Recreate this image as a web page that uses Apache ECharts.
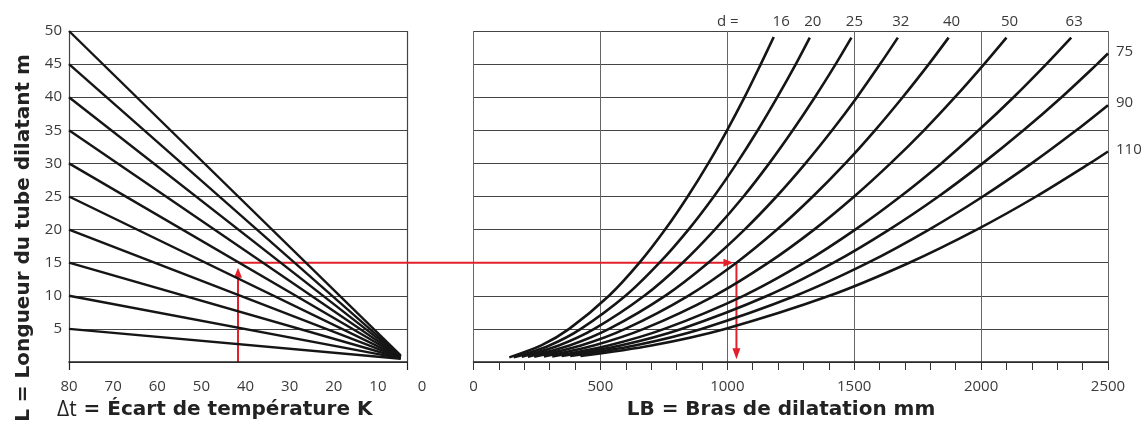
<!DOCTYPE html>
<html><head><meta charset="utf-8">
<script src="https://cdn.jsdelivr.net/npm/echarts@6/dist/echarts.min.js"></script>
<style>html,body{margin:0;padding:0;background:#fff}#c{width:1141px;height:428px}</style>
</head><body><div id="c"></div>
<script>
// ---------- data ----------
const lengthsL = [5, 10, 15, 20, 25, 30, 35, 40, 45, 50];          // L (m) at Δt = 80
const lengthsEndY = [0.5, 0.55, 0.6, 0.65, 0.7, 0.75, 0.8, 0.85, 0.9, 1.0]; // value near Δt ≈ 1.5
const dtStart = 80, dtEnd = 1.5;
const diameters = ['16', '20', '25', '32', '40', '50', '63', '75', '90', '110'];
const curve16 = [[141,0.7],[267,2.5],[377,5],[534,10],[654,15],[755,20],[844,25],[925,30],[999,35],[1068,40],[1132,45],[1183,49.1]];
const curve20 = [[158,0.7],[299,2.5],[423,5],[599,10],[733,15],[847,20],[947,25],[1037,30],[1120,35],[1197,40],[1270,45],[1325,49]];
const curve25 = [[190,0.8],[336,2.5],[476,5],[673,10],[824,15],[951,20],[1064,25],[1165,30],[1258,35],[1345,40],[1427,45],[1489,49]];
const curve32 = [[214,0.8],[378,2.5],[534,5],[755,10],[925,15],[1068,20],[1194,25],[1308,30],[1413,35],[1511,40],[1602,45],[1672,49]];
const curve40 = [[239,0.8],[423,2.5],[598,5],[846,10],[1036,15],[1196,20],[1337,25],[1465,30],[1582,35],[1691,40],[1794,45],[1872,49]];
const curve50 = [[277,0.85],[474,2.5],[671,5],[949,10],[1162,15],[1342,20],[1500,25],[1643,30],[1775,35],[1897,40],[2012,45],[2100,49]];
const curve63 = [[310,0.85],[532,2.5],[752,5],[1064,10],[1303,15],[1504,20],[1682,25],[1843,30],[1990,35],[2128,40],[2257,45],[2355,49]];
const curve75 = [[347,0.9],[579,2.5],[819,5],[1158,10],[1419,15],[1638,20],[1832,25],[2006,30],[2167,35],[2317,40],[2457,45],[2500,46.6]];
const curve90 = [[381,0.9],[635,2.5],[898,5],[1269,10],[1555,15],[1795,20],[2007,25],[2199,30],[2375,35],[2500,38.8]];
const curve110 = [[421,0.9],[701,2.5],[991,5],[1402,10],[1717,15],[1983,20],[2217,25],[2428,30],[2500,31.8]];
const curves = [curve16, curve20, curve25, curve32, curve40, curve50, curve63, curve75, curve90, curve110];
const example = { dt: 40, L: 15, LB: 1036, LBend: 0.4 };
const titleY = 'L = Longueur du tube dilatant m';
const titleDt = ' = Écart de température K';
const titleLB = 'LB = Bras de dilatation mm';

// ---------- chart ----------
const FONT = '"Open Sans", "Liberation Sans", sans-serif';
const TFONT = '"DejaVu Sans", "Open Sans", sans-serif';
const RED = '#e3202a';
const chart = echarts.init(document.getElementById('c'));
const tickLabel = { color: '#3a3a3a', fontSize: 15, fontFamily: FONT };

const series = [];
lengthsL.forEach((L, i) => {
  series.push({
    type: 'line', xAxisIndex: 0, yAxisIndex: 0, symbol: 'none', silent: true,
    data: [[dtStart, L], [dtEnd, lengthsEndY[i]]],
    lineStyle: { color: '#151515', width: 2.4 }
  });
});
curves.forEach((c, i) => {
  const last = c[c.length - 1];
  const onRight = last[0] >= 2500;
  let label;
  if (onRight) {
    label = { show: true, position: 'right', distance: 8, offset: [0, -2], formatter: diameters[i], ...tickLabel };
  } else if (i === 0) {
    label = { show: true, position: 'top', distance: 8, align: 'right', offset: [16, 0],
      formatter: '{a|d =}{b|' + diameters[i] + '}',
      rich: { a: { padding: [0, 34, 0, 0], ...tickLabel }, b: { ...tickLabel } } };
  } else {
    label = { show: true, position: 'top', distance: 8, offset: [3, 0], formatter: diameters[i], ...tickLabel };
  }
  series.push({
    type: 'line', xAxisIndex: 1, yAxisIndex: 1, symbol: 'none', smooth: 0.3, silent: true,
    data: c,
    lineStyle: { color: '#151515', width: 2.6 },
    markPoint: { symbol: 'circle', symbolSize: 0, silent: true, animation: false,
      data: [{ coord: last, label: label }] }
  });
});

chart.setOption({
  animation: false,
  backgroundColor: '#fff',
  grid: [
    { left: 69, top: 31, width: 338, height: 331 },
    { left: 473.5, top: 31, width: 634.5, height: 331 },
    { left: 69, top: 31, width: 353, height: 331 }
  ],
  xAxis: [
    { gridIndex: 0, type: 'value', min: 0, max: 80, interval: 10, inverse: true,
      axisLine: { show: true, onZero: false, lineStyle: { color: '#222', width: 1.5 } },
      axisTick: { show: true, customValues: [0, 80], length: 8, lineStyle: { color: '#222', width: 1.2 } },
      axisLabel: { show: false },
      splitLine: { show: true, lineStyle: { color: '#444', width: 1.2 } } },
    { gridIndex: 1, type: 'value', min: 0, max: 2500, interval: 500,
      axisLine: { show: true, onZero: false, lineStyle: { color: '#222', width: 1.5 } },
      axisTick: { show: true, length: 8, lineStyle: { color: '#333', width: 1 } },
      minorTick: { show: true, splitNumber: 5, length: 8, lineStyle: { color: '#333', width: 1 } },
      axisLabel: { margin: 17, formatter: v => String(v), ...tickLabel },
      splitLine: { show: true, lineStyle: { color: '#666', width: 1 } } },
    { gridIndex: 2, type: 'value', min: 0, max: 80, interval: 10, inverse: true,
      axisLine: { show: false }, axisTick: { show: false }, splitLine: { show: false },
      axisLabel: { margin: 17, ...tickLabel } }
  ],
  yAxis: [
    { gridIndex: 0, type: 'value', min: 0, max: 50, interval: 5,
      axisLine: { show: false }, axisTick: { show: false },
      axisLabel: { margin: 7, formatter: v => (v === 0 ? '' : String(v)), ...tickLabel },
      splitLine: { show: true, lineStyle: { color: '#444', width: 1.2 } } },
    { gridIndex: 1, type: 'value', min: 0, max: 50, interval: 5,
      axisLine: { show: false }, axisTick: { show: false }, axisLabel: { show: false },
      splitLine: { show: true, lineStyle: { color: '#444', width: 1.2 } } },
    { gridIndex: 2, type: 'value', min: 0, max: 50, show: false }
  ],
  series: series
});

// example path (red arrows), positioned through the axes' own scales
const p0 = v => chart.convertToPixel({ xAxisIndex: 0, yAxisIndex: 0 }, v);
const p1 = v => chart.convertToPixel({ xAxisIndex: 1, yAxisIndex: 1 }, v);
const A = p0([example.dt, 0]);
const B = p0([example.dt, example.L]);
const C = p1([example.LB, example.L]);
const D = p1([example.LB, example.LBend]);
const red = { stroke: RED, lineWidth: 2 };
chart.setOption({
  graphic: [
    { type: 'polyline', silent: true, shape: { points: [A, [B[0], B[1] + 8]] }, style: red },
    { type: 'polygon', silent: true, shape: { points: [[B[0], B[1] + 5], [B[0] - 4, B[1] + 15], [B[0] + 4, B[1] + 15]] }, style: { fill: RED } },
    { type: 'polyline', silent: true, shape: { points: [B, [C[0] - 6, C[1]]] }, style: red },
    { type: 'polygon', silent: true, shape: { points: [[C[0] - 3, C[1]], [C[0] - 13, C[1] - 4], [C[0] - 13, C[1] + 4]] }, style: { fill: RED } },
    { type: 'polyline', silent: true, shape: { points: [[C[0], C[1]], [D[0], D[1] - 8]] }, style: red },
    { type: 'polygon', silent: true, shape: { points: [[D[0], D[1]], [D[0] - 4, D[1] - 11], [D[0] + 4, D[1] - 11]] }, style: { fill: RED } },
    { type: 'text', silent: true, x: 24, y: 238, rotation: Math.PI / 2,
      style: { text: titleY, fontFamily: TFONT, fontWeight: 'bold', fontSize: 20, fill: '#222', align: 'center', verticalAlign: 'middle' } },
    { type: 'text', silent: true, x: 57, y: 410,
      style: { text: '{n|Δt}{b|' + titleDt + '}', align: 'left', verticalAlign: 'middle',
        rich: { n: { fontFamily: FONT, fontSize: 21, fill: '#222' }, b: { fontFamily: TFONT, fontWeight: 'bold', fontSize: 20, fill: '#222' } } } },
    { type: 'text', silent: true, x: 781, y: 410,
      style: { text: titleLB, fontFamily: TFONT, fontWeight: 'bold', fontSize: 20, fill: '#222', align: 'center', verticalAlign: 'middle' } }
  ]
});
</script>
</body></html>
